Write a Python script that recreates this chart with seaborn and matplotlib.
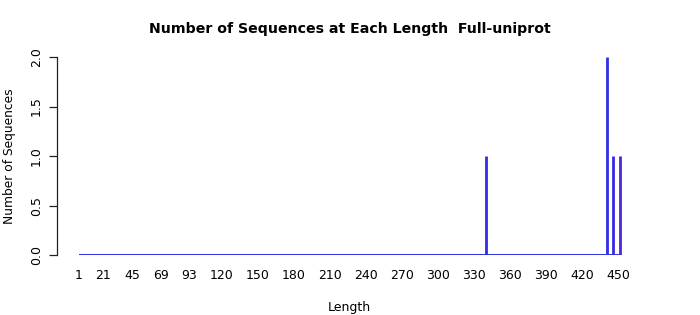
import matplotlib
matplotlib.use("Agg")
import matplotlib.pyplot as plt
import seaborn as sns
import pandas as pd

lengths = [340, 441, 446, 452]
counts = [1, 2, 1, 1]
bar_colors = ["#2e2ee8", "#2e2ee8", "#3528e6", "#5224d8"]
tick_values = [1, 21, 45, 69, 93, 120, 150, 180, 210, 240, 270, 300, 330, 360, 390, 420, 450]
y_ticks = [0.0, 0.5, 1.0, 1.5, 2.0]

df = pd.DataFrame({"Length": lengths, "Count": counts})

sns.set_style("white")
plt.rcParams["font.family"] = ["DejaVu Sans"]
plt.rcParams["text.color"] = "black"
plt.rcParams["axes.labelcolor"] = "black"
plt.rcParams["xtick.color"] = "black"
plt.rcParams["ytick.color"] = "black"

fig = plt.figure(figsize=(7, 3.15), dpi=100)
ax = fig.add_axes([57/700, 60/315, (642-57)/700, (255-57)/315])

# baseline from shortest to longest length
ax.hlines(0, 1, max(lengths), colors="#3030e0", linewidth=1.4, zorder=2)
ax.vlines(df["Length"], 0, df["Count"], colors=bar_colors, linewidth=2.0, zorder=3)

ax.set_xlim(1 - 22/1.2, 470)
ax.set_ylim(0, 2)
ax.set_yticks(y_ticks)
ax.set_yticklabels([f"{v:.1f}" for v in y_ticks], rotation=90, va="center", fontsize=9)
ax.set_xticks(tick_values)
ax.set_xticklabels([str(v) for v in tick_values], fontsize=9)
ax.tick_params(axis="x", length=0, pad=10)
ax.tick_params(axis="y", length=6, width=0.9, color="#222222", pad=4, left=True)

sns.despine(ax=ax, top=True, right=True, bottom=True, left=False)
ax.spines["left"].set_color("#222222")
ax.spines["left"].set_linewidth(0.9)

ax.set_xlabel("Length", fontsize=9, labelpad=14)
ax.set_ylabel("Number of Sequences", fontsize=8.8, labelpad=10)
fig.suptitle("Number of Sequences at Each Length  Full-uniprot", fontsize=10.2,
             fontweight="bold", x=350/700, y=1 - 29/315, va="center", color="black")

fig.savefig("out.png", dpi=100)
